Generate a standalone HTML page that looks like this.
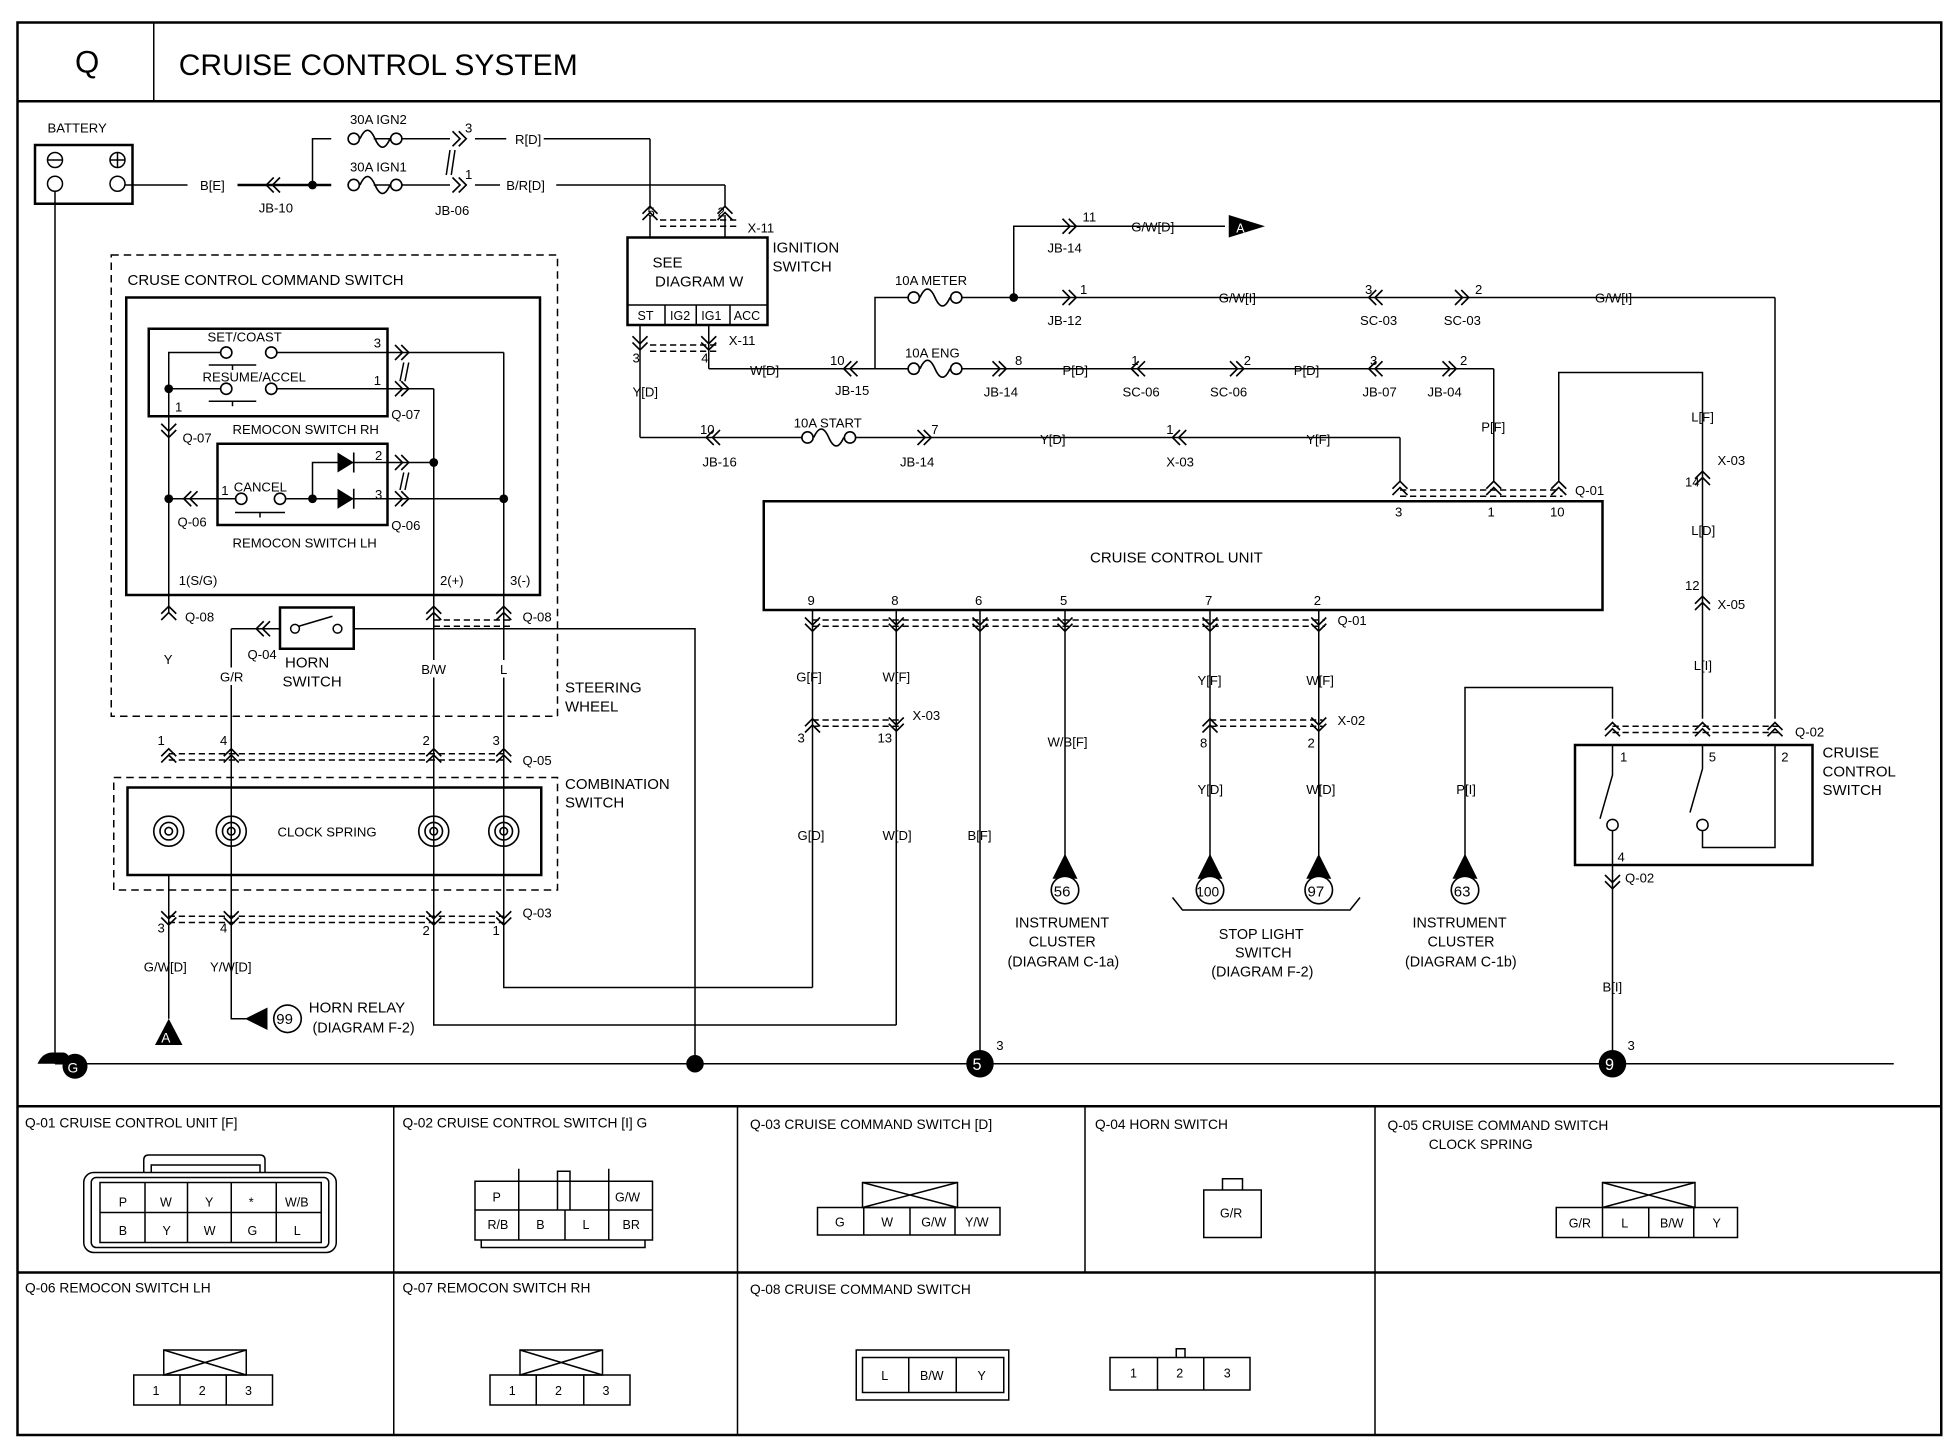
<!DOCTYPE html>
<html><head><meta charset="utf-8"><style>
html,body{margin:0;padding:0;background:#fff}
svg{display:block}
text{font-family:"Liberation Sans",sans-serif;fill:#000}
</style></head><body>
<svg width="1954" height="1456" viewBox="0 0 1563.2 1164.8" xmlns="http://www.w3.org/2000/svg">
<defs>
<path id="d" d="M-6,-6 L0,0 L6,-6 M-6,-1 L0,5 L6,-1" fill="none" stroke="#000" stroke-width="1.3"/>
<path id="u" d="M-6,6 L0,0 L6,6 M-6,1 L0,-5 L6,1" fill="none" stroke="#000" stroke-width="1.3"/>
<path id="r" d="M-6,-6 L0,0 L-6,6 M-1,-6 L5,0 L-1,6" fill="none" stroke="#000" stroke-width="1.3"/>
<path id="l" d="M6,-6 L0,0 L6,6 M1,-6 L-5,0 L1,6" fill="none" stroke="#000" stroke-width="1.3"/>
<g id="fuse" fill="none" stroke="#000" stroke-width="1.3"><circle cx="-17" cy="0" r="4.5" fill="#fff"/><circle cx="17" cy="0" r="4.5" fill="#fff"/><path d="M-12,0 C-8,-9 -4,-9 0,0 C4,9 8,9 12,0"/></g>
<g id="spring" fill="none" stroke="#000" stroke-width="1.3"><circle r="12"/><circle r="7"/><circle r="3"/></g>
</defs>
<g fill="none" stroke="#000" stroke-width="1.2">
<!-- frame -->
<rect x="14" y="18" width="1539" height="1130" stroke-width="2"/>
<line x1="14" y1="81" x2="1553" y2="81" stroke-width="2"/>
<line x1="123" y1="18" x2="123" y2="81"/>
<!-- battery -->
<rect x="28" y="116" width="78" height="47" stroke-width="2"/>
<circle cx="44" cy="128" r="6"/><line x1="38" y1="128" x2="50" y2="128"/>
<circle cx="94" cy="128" r="6"/><line x1="88" y1="128" x2="100" y2="128"/><line x1="94" y1="122" x2="94" y2="134"/>
<circle cx="44" cy="147" r="6"/><circle cx="94" cy="147" r="6"/>
<line x1="44" y1="153" x2="44" y2="851"/>
<polyline points="100,148 150,148"/><line x1="190" y1="148" x2="250" y2="148" stroke-width="2"/>
<polyline points="250,148 250,111 265,111"/><line x1="299" y1="111" x2="360" y2="111"/>
<line x1="250" y1="148" x2="265" y2="148" stroke-width="2"/><line x1="299" y1="148" x2="360" y2="148"/>
<line x1="380" y1="111" x2="405" y2="111"/><line x1="435" y1="111" x2="520" y2="111"/><line x1="520" y1="111" x2="520" y2="165"/>
<line x1="380" y1="148" x2="400" y2="148"/><line x1="445" y1="148" x2="580" y2="148"/><line x1="580" y1="148" x2="580" y2="165"/>
<path d="M360,120 L357,140 M364,120 L361,140"/>
<!-- ignition -->
<rect x="502" y="190" width="112" height="70" stroke-width="2"/>
<line x1="502" y1="244" x2="614" y2="244"/>
<line x1="532" y1="244" x2="532" y2="260"/><line x1="557" y1="244" x2="557" y2="260"/><line x1="584" y1="244" x2="584" y2="260"/>
<line x1="520" y1="172" x2="520" y2="190"/><line x1="580" y1="172" x2="580" y2="190"/>
<path d="M528,176 H590 M528,181 H590" stroke-dasharray="5,3"/>
<line x1="512" y1="260" x2="512" y2="350"/><line x1="567" y1="260" x2="567" y2="295"/>
<path d="M520,276 H575 M520,281 H575" stroke-dasharray="5,3"/>
<!-- START line -->
<line x1="512" y1="350" x2="645" y2="350"/><line x1="680" y1="350" x2="1120" y2="350"/><line x1="1120" y1="350" x2="1120" y2="385"/>
<!-- IG1 -->
<line x1="567" y1="295" x2="730" y2="295"/><line x1="766" y1="295" x2="1195" y2="295"/><line x1="1195" y1="295" x2="1195" y2="385"/>
<polyline points="700,295 700,238 730,238"/><line x1="766" y1="238" x2="1420" y2="238"/><line x1="1420" y1="238" x2="1420" y2="575"/>
<polyline points="811,238 811,181 980,181"/>
<!-- pin10 / L -->
<polyline points="1247,385 1247,298 1362,298 1362,575"/>
<path d="M1120,392 H1250 M1120,397 H1250" stroke-dasharray="5,3"/>
<!-- CCU -->
<rect x="611" y="401" width="671" height="87" stroke-width="2"/>
<line x1="650" y1="488" x2="650" y2="790"/>
<line x1="717" y1="488" x2="717" y2="820"/>
<line x1="784" y1="488" x2="784" y2="851"/>
<line x1="852" y1="488" x2="852" y2="685"/>
<line x1="968" y1="488" x2="968" y2="685"/>
<line x1="1055" y1="488" x2="1055" y2="685"/>
<path d="M650,496 H1060 M650,501 H1060" stroke-dasharray="5,3"/>
<path d="M650,576 H720 M650,581 H720" stroke-dasharray="5,3"/>
<path d="M968,576 H1058 M968,581 H1058" stroke-dasharray="5,3"/>
<polyline points="650,790 403,790 403,490"/>
<polyline points="717,820 347,820 347,490"/>
<!-- 63 -->
<polyline points="1172,685 1172,550 1290,550 1290,575"/>
<!-- CC switch -->
<rect x="1260" y="596" width="190" height="96" stroke-width="2"/>
<path d="M1290,581 H1425 M1290,586 H1425" stroke-dasharray="5,3"/>
<polyline points="1290,596 1290,620 1280,655"/><circle cx="1290" cy="660" r="4.5"/><line x1="1290" y1="665" x2="1290" y2="692"/>
<polyline points="1362,596 1362,615 1352,650"/><circle cx="1362" cy="660" r="4.5"/><polyline points="1362,665 1362,678 1420,678 1420,596"/>
<line x1="1290" y1="692" x2="1290" y2="851"/>
<!-- ground -->
<line x1="44" y1="851" x2="1515" y2="851"/>
<!-- command switch -->
<rect x="89" y="204" width="357" height="369" stroke-dasharray="6,4"/>
<rect x="101" y="238" width="331" height="238" stroke-width="2"/>
<rect x="119" y="263" width="191" height="70" stroke-width="2"/>
<rect x="174" y="355" width="136" height="65" stroke-width="2"/>
<polyline points="135,490 135,282 176,282"/><line x1="222" y1="282" x2="403" y2="282"/><line x1="403" y1="282" x2="403" y2="490"/>
<line x1="135" y1="311" x2="176" y2="311"/><line x1="222" y1="311" x2="347" y2="311"/><line x1="347" y1="311" x2="347" y2="490"/>
<path d="M167,292 H205 M186,292 V296 M167,321 H205 M186,321 V325"/>
<line x1="135" y1="399" x2="188" y2="399"/><line x1="229" y1="399" x2="403" y2="399"/>
<polyline points="250,399 250,370 347,370"/>
<path d="M188,410 H228 M208,410 V414"/>
<path d="M323,290 L320,305 M327,290 L324,305 M323,378 L320,392 M327,378 L324,392"/>
<!-- horn -->
<rect x="224" y="486" width="59" height="33" stroke-width="2"/>
<circle cx="236" cy="503" r="3.5"/><circle cx="270" cy="503" r="3.5"/><line x1="239" y1="501" x2="266" y2="493"/>
<line x1="185" y1="503" x2="224" y2="503"/><polyline points="283,503 556,503 556,851"/>
<polyline points="185,503 185,815 205,815"/>
<path d="M347,496 H410 M347,501 H410" stroke-dasharray="5,3"/>
<path d="M135,603 H403 M135,608 H403" stroke-dasharray="5,3"/>
<path d="M135,733 H403 M135,738 H403" stroke-dasharray="5,3"/>
<!-- combination -->
<rect x="91" y="622" width="355" height="90" stroke-dasharray="6,4"/>
<rect x="102" y="630" width="331" height="70" stroke-width="2"/>
<line x1="135" y1="700" x2="135" y2="815"/>
<!-- stop light bracket -->
<path d="M938,718 L946,728 H1080 L1088,718"/>
</g>
<!-- filled bits -->
<g fill="#000">
<circle cx="250" cy="148" r="3.5"/><circle cx="811" cy="238" r="3.5"/>
<circle cx="135" cy="311" r="3.5"/><circle cx="135" cy="399" r="3.5"/><circle cx="250" cy="399" r="3.5"/>
<circle cx="347" cy="370" r="3.5"/><circle cx="403" cy="399" r="3.5"/>
<circle cx="556" cy="851" r="7"/>
<polygon points="270,362 270,378 283,370"/><polygon points="270,391 270,407 283,399"/>
<polygon points="983,172 983,190 1012,181"/>
<polygon points="124,836 146,836 135,815"/>
<polygon points="196,815 214,806 214,824"/>
<polygon points="842,703 862,703 852,683"/><polygon points="958,703 978,703 968,683"/>
<polygon points="1045,703 1065,703 1055,683"/><polygon points="1162,703 1182,703 1172,683"/>
<circle cx="784" cy="851" r="11"/><circle cx="1290" cy="851" r="11"/>
<path d="M30,851 q4,-9 12,-9 h8 q6,0 6,9 z"/><circle cx="60" cy="853" r="10"/>
</g>
<g stroke="#000" stroke-width="1.3" fill="none"><line x1="283" y1="362" x2="283" y2="378"/><line x1="283" y1="391" x2="283" y2="407"/></g>
<g fill="#fff" stroke="#000" stroke-width="1.3">
<circle cx="852" cy="712" r="11"/><circle cx="968" cy="712" r="11"/><circle cx="1055" cy="712" r="11"/><circle cx="1172" cy="712" r="11"/><circle cx="230" cy="815" r="11"/>
<circle cx="181" cy="282" r="4.5"/><circle cx="217" cy="282" r="4.5"/><circle cx="181" cy="311" r="4.5"/><circle cx="217" cy="311" r="4.5"/>
<circle cx="193" cy="399" r="4.5"/><circle cx="224" cy="399" r="4.5"/>
</g>
<!-- fuses -->
<use href="#fuse" x="300" y="111"/><use href="#fuse" x="300" y="148"/>
<use href="#fuse" x="748" y="238"/><use href="#fuse" x="748" y="295"/><use href="#fuse" x="663" y="350"/>
<!-- clock springs -->
<use href="#spring" x="135" y="665"/><use href="#spring" x="185" y="665"/><use href="#spring" x="347" y="665"/><use href="#spring" x="403" y="665"/>
<!-- connectors -->
<use href="#l" x="218" y="148"/><use href="#r" x="368" y="111"/><use href="#r" x="368" y="148"/>
<use href="#u" x="520" y="170"/><use href="#u" x="580" y="170"/>
<use href="#d" x="512" y="275"/><use href="#d" x="567" y="275"/>
<use href="#l" x="680" y="295"/><use href="#r" x="856" y="181"/><use href="#r" x="856" y="238"/>
<use href="#l" x="1100" y="238"/><use href="#r" x="1170" y="238"/>
<use href="#r" x="800" y="295"/><use href="#l" x="910" y="295"/><use href="#r" x="990" y="295"/>
<use href="#l" x="1100" y="295"/><use href="#r" x="1160" y="295"/>
<use href="#l" x="570" y="350"/><use href="#r" x="740" y="350"/><use href="#l" x="943" y="350"/>
<use href="#u" x="1120" y="390"/><use href="#u" x="1195" y="390"/><use href="#u" x="1247" y="390"/>
<use href="#d" x="650" y="500"/><use href="#d" x="717" y="500"/><use href="#d" x="784" y="500"/><use href="#d" x="852" y="500"/><use href="#d" x="968" y="500"/><use href="#d" x="1055" y="500"/>
<use href="#u" x="650" y="580"/><use href="#d" x="717" y="580"/><use href="#u" x="968" y="580"/><use href="#d" x="1055" y="580"/>
<use href="#u" x="1362" y="382"/><use href="#u" x="1362" y="482"/>
<use href="#u" x="1290" y="583"/><use href="#u" x="1362" y="583"/><use href="#u" x="1420" y="583"/>
<use href="#d" x="1290" y="706"/>
<use href="#r" x="322" y="282"/><use href="#r" x="322" y="311"/><use href="#r" x="322" y="370"/><use href="#r" x="322" y="399"/>
<use href="#d" x="135" y="345"/><use href="#l" x="152" y="399"/>
<use href="#u" x="135" y="490"/><use href="#u" x="347" y="490"/><use href="#u" x="403" y="490"/><use href="#l" x="210" y="503"/>
<use href="#u" x="135" y="604"/><use href="#u" x="185" y="604"/><use href="#u" x="347" y="604"/><use href="#u" x="403" y="604"/>
<use href="#d" x="135" y="735"/><use href="#d" x="185" y="735"/><use href="#d" x="347" y="735"/><use href="#d" x="403" y="735"/>
<!-- white gaps behind wire labels -->
<g fill="#fff">
<rect x="122" y="520" width="25" height="14"/><rect x="172" y="534" width="28" height="14"/><rect x="334" y="528" width="28" height="14"/><rect x="395" y="528" width="16" height="14"/>
</g>
<!-- text -->
<text x="60" y="58" font-size="25">Q</text>
<text x="143" y="60" font-size="24">CRUISE CONTROL SYSTEM</text>
<g font-size="10.5">
<text x="38" y="106">BATTERY</text>
<text x="160" y="152">B[E]</text><text x="207" y="170">JB-10</text>
<text x="280" y="99">30A IGN2</text><text x="280" y="137">30A IGN1</text>
<text x="372" y="106">3</text><text x="372" y="143">1</text><text x="348" y="172">JB-06</text>
<text x="412" y="115">R[D]</text><text x="405" y="152">B/R[D]</text>
<text x="518" y="173">5</text><text x="574" y="173">2</text><text x="598" y="186">X-11</text>
<text x="522" y="214" font-size="12">SEE</text><text x="524" y="229" font-size="12">DIAGRAM  W</text>
<text x="510" y="256" font-size="10">ST</text><text x="536" y="256" font-size="10">IG2</text><text x="561" y="256" font-size="10">IG1</text><text x="587" y="256" font-size="10">ACC</text>
<text x="618" y="202" font-size="12">IGNITION</text><text x="618" y="217" font-size="12">SWITCH</text>
<text x="506" y="290">3</text><text x="561" y="290">4</text><text x="583" y="276">X-11</text>
<text x="506" y="317">Y[D]</text><text x="600" y="300">W[D]</text>
<text x="664" y="292">10</text><text x="668" y="316">JB-15</text>
<text x="716" y="228">10A METER</text><text x="724" y="286">10A ENG</text><text x="635" y="342">10A START</text>
<text x="866" y="177">11</text><text x="838" y="202">JB-14</text><text x="905" y="185">G/W[D]</text>
<text x="864" y="235">1</text><text x="838" y="260">JB-12</text><text x="975" y="242">G/W[I]</text>
<text x="1092" y="235">3</text><text x="1088" y="260">SC-03</text><text x="1180" y="235">2</text><text x="1155" y="260">SC-03</text><text x="1276" y="242">G/W[I]</text>
<text x="812" y="292">8</text><text x="787" y="317">JB-14</text><text x="850" y="300">P[D]</text>
<text x="905" y="292">1</text><text x="898" y="317">SC-06</text><text x="995" y="292">2</text><text x="968" y="317">SC-06</text><text x="1035" y="300">P[D]</text>
<text x="1096" y="292">3</text><text x="1090" y="317">JB-07</text><text x="1168" y="292">2</text><text x="1142" y="317">JB-04</text>
<text x="1185" y="345">P[F]</text>
<text x="560" y="347">10</text><text x="562" y="373">JB-16</text><text x="745" y="347">7</text><text x="720" y="373">JB-14</text>
<text x="832" y="355">Y[D]</text><text x="933" y="347">1</text><text x="933" y="373">X-03</text><text x="1045" y="355">Y[F]</text>
<text x="1353" y="337">L[F]</text><text x="1374" y="372">X-03</text><text x="1348" y="389">14</text><text x="1353" y="428">L[D]</text>
<text x="1348" y="472">12</text><text x="1374" y="487">X-05</text><text x="1355" y="536">L[I]</text>
<text x="1116" y="413">3</text><text x="1190" y="413">1</text><text x="1240" y="413">10</text><text x="1260" y="396">Q-01</text>
<text x="872" y="450" font-size="12">CRUISE CONTROL UNIT</text>
<text x="646" y="484">9</text><text x="713" y="484">8</text><text x="780" y="484">6</text><text x="848" y="484">5</text><text x="964" y="484">7</text><text x="1051" y="484">2</text><text x="1070" y="500">Q-01</text>
<text x="637" y="545">G[F]</text><text x="706" y="545">W[F]</text><text x="958" y="548">Y[F]</text><text x="1045" y="548">W[F]</text>
<text x="638" y="594">3</text><text x="702" y="594">13</text><text x="730" y="576">X-03</text>
<text x="960" y="598">8</text><text x="1046" y="598">2</text><text x="1070" y="580">X-02</text>
<text x="838" y="597">W/B[F]</text><text x="958" y="635">Y[D]</text><text x="1045" y="635">W[D]</text>
<text x="638" y="672">G[D]</text><text x="706" y="672">W[D]</text><text x="774" y="672">B[F]</text><text x="1165" y="635">P[I]</text>
<text x="843" y="717" font-size="12">56</text><text x="957" y="717" font-size="11">100</text><text x="1046" y="717" font-size="12">97</text><text x="1163" y="717" font-size="12">63</text><text x="221" y="819" font-size="12">99</text>
<text x="812" y="742" font-size="11.5">INSTRUMENT</text><text x="823" y="757" font-size="11.5">CLUSTER</text><text x="806" y="773" font-size="11.5">(DIAGRAM C-1a)</text>
<text x="975" y="751" font-size="11.5">STOP LIGHT</text><text x="988" y="766" font-size="11.5">SWITCH</text><text x="969" y="781" font-size="11.5">(DIAGRAM F-2)</text>
<text x="1130" y="742" font-size="11.5">INSTRUMENT</text><text x="1142" y="757" font-size="11.5">CLUSTER</text><text x="1124" y="773" font-size="11.5">(DIAGRAM C-1b)</text>
<text x="1458" y="606" font-size="12">CRUISE</text><text x="1458" y="621" font-size="12">CONTROL</text><text x="1458" y="636" font-size="12">SWITCH</text>
<text x="1296" y="609">1</text><text x="1367" y="609">5</text><text x="1425" y="609">2</text><text x="1436" y="589">Q-02</text>
<text x="1294" y="689">4</text><text x="1300" y="706">Q-02</text><text x="1282" y="793">B[I]</text>
<text x="797" y="840">3</text><text x="1302" y="840">3</text>
<text x="778" y="856" font-size="13" fill="#fff" style="fill:#fff">5</text><text x="1284" y="856" font-size="13" style="fill:#fff">9</text>
<text x="54" y="858" font-size="11" style="fill:#fff">G</text><text x="129" y="834" font-size="11" style="fill:#fff">A</text><text x="989" y="186" font-size="10" style="fill:#fff">A</text>
<text x="102" y="228" font-size="12">CRUSE CONTROL COMMAND SWITCH</text>
<text x="166" y="273">SET/COAST</text><text x="162" y="305">RESUME/ACCEL</text>
<text x="299" y="278">3</text><text x="299" y="308">1</text><text x="140" y="329">1</text><text x="313" y="335">Q-07</text>
<text x="186" y="347">REMOCON SWITCH RH</text><text x="146" y="354">Q-07</text>
<text x="187" y="393">CANCEL</text><text x="177" y="396">1</text><text x="300" y="368">2</text><text x="300" y="399">3</text>
<text x="142" y="421">Q-06</text><text x="313" y="424">Q-06</text><text x="186" y="438">REMOCON SWITCH LH</text>
<text x="143" y="468">1(S/G)</text><text x="352" y="468">2(+)</text><text x="408" y="468">3(-)</text>
<text x="148" y="497">Q-08</text><text x="418" y="497">Q-08</text><text x="198" y="527">Q-04</text>
<text x="228" y="534" font-size="12">HORN</text><text x="226" y="549" font-size="12">SWITCH</text>
<text x="131" y="531">Y</text><text x="176" y="545">G/R</text><text x="337" y="539">B/W</text><text x="400" y="539">L</text>
<text x="452" y="554" font-size="12">STEERING</text><text x="452" y="569" font-size="12">WHEEL</text>
<text x="126" y="596">1</text><text x="176" y="596">4</text><text x="338" y="596">2</text><text x="394" y="596">3</text><text x="418" y="612">Q-05</text>
<text x="452" y="631" font-size="12">COMBINATION</text><text x="452" y="646" font-size="12">SWITCH</text>
<text x="222" y="669">CLOCK SPRING</text>
<text x="126" y="746">3</text><text x="176" y="746">4</text><text x="338" y="748">2</text><text x="394" y="748">1</text><text x="418" y="734">Q-03</text>
<text x="115" y="777">G/W[D]</text><text x="168" y="777">Y/W[D]</text>
<text x="247" y="810" font-size="12">HORN RELAY</text><text x="250" y="826" font-size="11.5">(DIAGRAM F-2)</text>
</g>
<!-- bottom tables -->
<g fill="none" stroke="#000" stroke-width="1.2">
<line x1="14" y1="885" x2="1553" y2="885" stroke-width="2"/>
<line x1="14" y1="1018" x2="1553" y2="1018" stroke-width="2"/>
<line x1="315" y1="885" x2="315" y2="1148"/><line x1="590" y1="885" x2="590" y2="1148"/><line x1="868" y1="885" x2="868" y2="1018"/><line x1="1100" y1="885" x2="1100" y2="1148"/>
<!-- Q-01 -->
<rect x="67" y="938" width="202" height="64" rx="8"/><rect x="73" y="942" width="190" height="56" rx="4"/>
<path d="M115,938 V928 Q115,924 119,924 H208 Q212,924 212,928 V938 M121,938 V932 H208 V938"/>
<line x1="80" y1="970" x2="257" y2="970"/><rect x="80" y="946" width="177" height="48"/>
<path d="M116,946V994 M150,946V994 M185,946V994 M221,946V994"/>
<!-- Q-02 -->
<rect x="380" y="945" width="142" height="47"/><line x1="380" y1="968" x2="522" y2="968"/>
<path d="M415,945V992 M452,968V992 M487,945V992 M415,945 L415,935 M487,945 L487,935 M446,968V937 H456 V968 M385,992 V998 H516 V992"/>
<!-- Q-03 -->
<rect x="690" y="946" width="76" height="20"/><path d="M690,946 L766,966 M766,946 L690,966"/>
<rect x="654" y="966" width="146" height="22"/><path d="M691,966V988 M728,966V988 M764,966V988"/>
<!-- Q-04 -->
<rect x="963" y="952" width="46" height="38"/><path d="M978,952V943H994V952"/>
<!-- Q-05 -->
<rect x="1282" y="946" width="74" height="20"/><path d="M1282,946 L1356,966 M1356,946 L1282,966"/>
<rect x="1245" y="966" width="145" height="24"/><path d="M1282,966V990 M1319,966V990 M1355,966V990"/>
<!-- Q-06 -->
<rect x="131" y="1080" width="66" height="20"/><path d="M131,1080 L197,1100 M197,1080 L131,1100"/>
<rect x="107" y="1100" width="111" height="24"/><path d="M144,1100V1124 M181,1100V1124"/>
<!-- Q-07 -->
<rect x="416" y="1080" width="66" height="20"/><path d="M416,1080 L482,1100 M482,1080 L416,1100"/>
<rect x="392" y="1100" width="112" height="24"/><path d="M429,1100V1124 M467,1100V1124"/>
<!-- Q-08 -->
<rect x="685" y="1080" width="122" height="40"/><rect x="690" y="1086" width="113" height="28"/><path d="M727,1086V1114 M765,1086V1114"/>
<rect x="888" y="1086" width="112" height="26"/><path d="M926,1086V1112 M963,1086V1112 M941,1086V1079H948V1086"/>
</g>
<g font-size="11">
<text x="20" y="902">Q-01 CRUISE CONTROL UNIT [F]</text>
<text x="322" y="902">Q-02 CRUISE CONTROL SWITCH [I] G</text>
<text x="600" y="903">Q-03 CRUISE COMMAND SWITCH [D]</text>
<text x="876" y="903">Q-04 HORN SWITCH</text>
<text x="1110" y="904">Q-05 CRUISE COMMAND SWITCH</text><text x="1143" y="919">CLOCK SPRING</text>
<text x="20" y="1034">Q-06 REMOCON SWITCH LH</text>
<text x="322" y="1034">Q-07 REMOCON SWITCH RH</text>
<text x="600" y="1035">Q-08 CRUISE COMMAND SWITCH</text>
</g>
<g font-size="10">
<text x="95" y="965">P</text><text x="128" y="965">W</text><text x="164" y="965">Y</text><text x="199" y="965">*</text><text x="228" y="965">W/B</text>
<text x="95" y="988">B</text><text x="130" y="988">Y</text><text x="163" y="988">W</text><text x="198" y="988">G</text><text x="235" y="988">L</text>
<text x="394" y="961">P</text><text x="492" y="961">G/W</text><text x="390" y="983">R/B</text><text x="429" y="983">B</text><text x="466" y="983">L</text><text x="498" y="983">BR</text>
<text x="668" y="981">G</text><text x="705" y="981">W</text><text x="737" y="981">G/W</text><text x="772" y="981">Y/W</text>
<text x="976" y="974">G/R</text>
<text x="1255" y="982">G/R</text><text x="1297" y="982">L</text><text x="1328" y="982">B/W</text><text x="1370" y="982">Y</text>
<text x="122" y="1116">1</text><text x="159" y="1116">2</text><text x="196" y="1116">3</text>
<text x="407" y="1116">1</text><text x="444" y="1116">2</text><text x="482" y="1116">3</text>
<text x="705" y="1104">L</text><text x="736" y="1104">B/W</text><text x="782" y="1104">Y</text>
<text x="904" y="1102">1</text><text x="941" y="1102">2</text><text x="979" y="1102">3</text>
</g>
</svg>
</body></html>
